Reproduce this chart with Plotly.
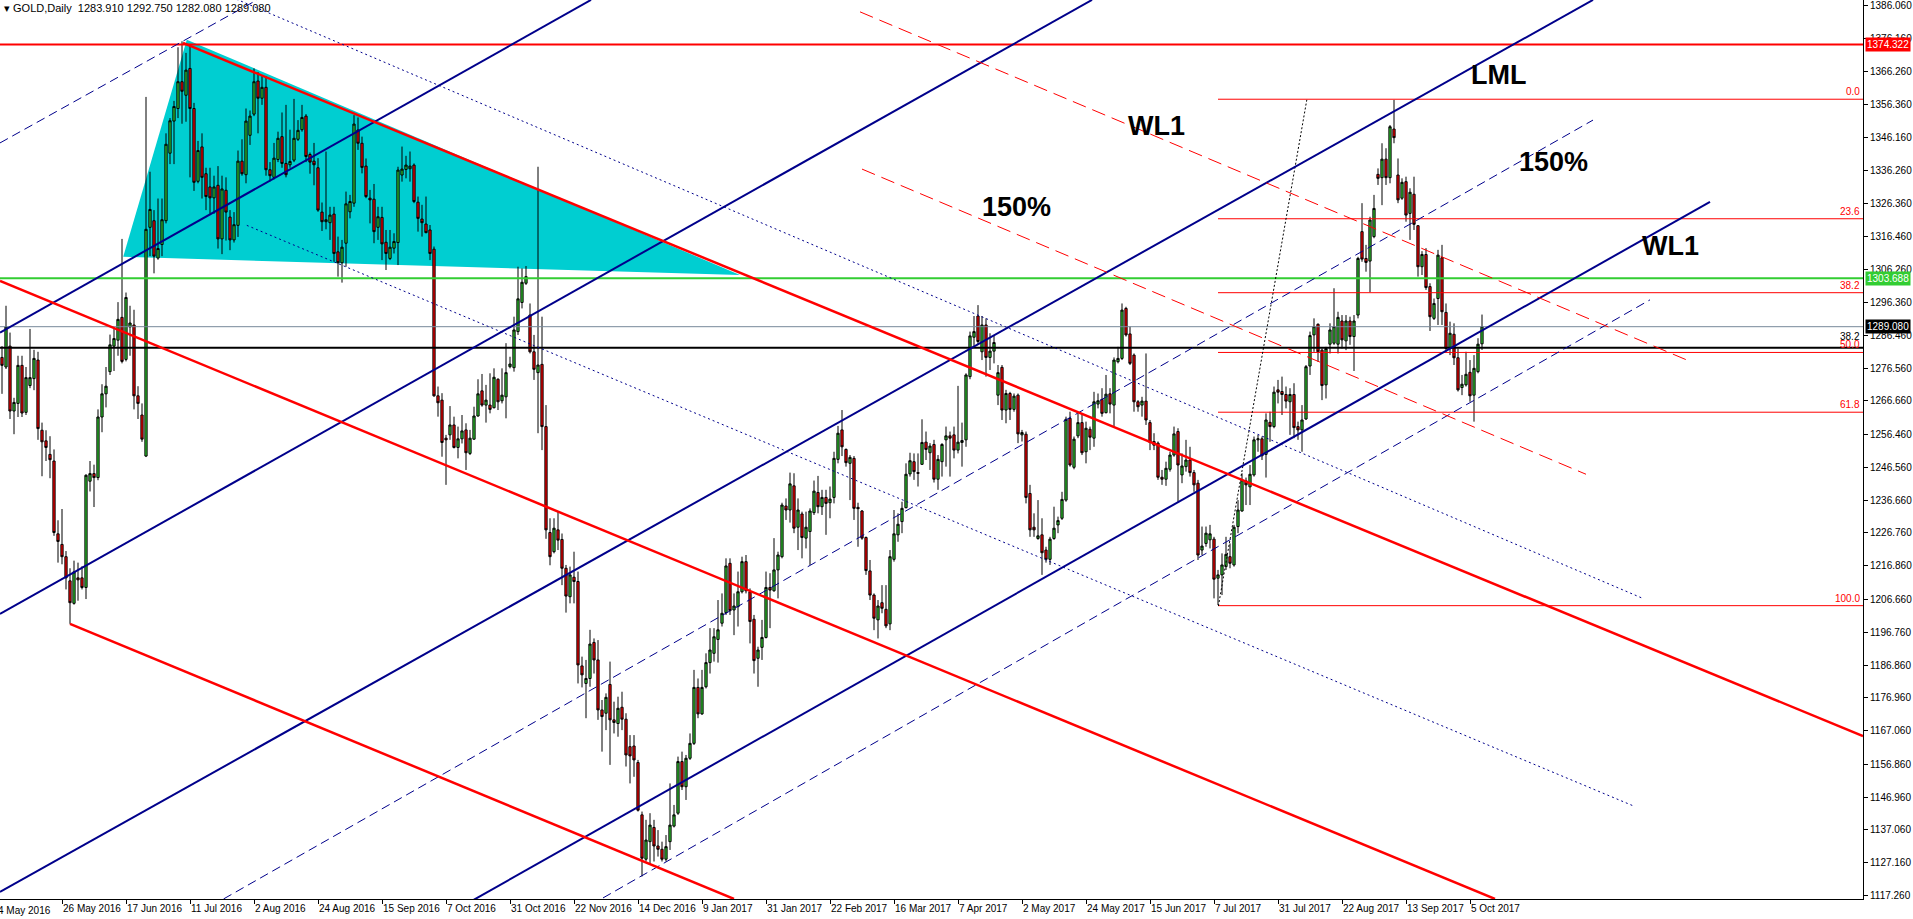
import plotly.graph_objects as go

# ---- candles (bar 1 = 5 May 2016 ... bar 371 = 10 Oct 2017) ----
open_p = [
    1279.8, 1276.9, 1283.2, 1263.6, 1265.9, 1277.4, 1263.2, 1271.3, 1273.4, 1279.0,
    1257.8, 1254.6, 1250.5, 1248.5, 1226.5, 1223.3, 1219.6, 1212.3, 1205.5, 1213.2,
    1213.2, 1210.3, 1242.4, 1244.7, 1243.5, 1261.8, 1268.8, 1275.5, 1283.2, 1285.0,
    1291.9, 1279.2, 1289.0, 1289.6, 1268.2, 1262.4, 1250.0, 1319.1, 1321.1, 1309.8,
    1313.9, 1321.1, 1341.5, 1351.2, 1355.0, 1363.1, 1359.0, 1367.1, 1355.0, 1333.0,
    1343.4, 1335.3, 1331.3, 1328.0, 1331.8, 1315.6, 1330.3, 1322.2, 1315.3, 1319.7,
    1339.1, 1335.0, 1346.9, 1353.3, 1363.3, 1358.1, 1361.4, 1336.5, 1334.2, 1339.6,
    1346.5, 1338.4, 1338.0, 1339.4, 1345.7, 1348.6, 1352.7, 1341.1, 1339.1, 1337.1,
    1323.7, 1320.8, 1320.5, 1323.1, 1311.7, 1308.4, 1314.3, 1323.8, 1326.4, 1348.5,
    1344.5, 1337.6, 1327.9, 1327.6, 1319.1, 1322.1, 1314.6, 1309.7, 1312.8, 1314.5,
    1334.9, 1336.6, 1336.8, 1337.9, 1326.7, 1321.6, 1320.1, 1318.3, 1312.5, 1268.2,
    1266.9, 1255.4, 1256.4, 1259.4, 1252.6, 1255.2, 1257.9, 1250.8, 1255.1, 1262.1,
    1269.7, 1265.4, 1265.4, 1264.6, 1273.2, 1266.7, 1267.9, 1277.0, 1276.7, 1287.6,
    1296.4, 1302.2, 1292.6, 1281.5, 1275.2, 1277.7, 1258.9, 1226.9, 1221.1, 1227.7,
    1224.8, 1216.1, 1207.5, 1213.4, 1212.1, 1186.6, 1181.3, 1182.8, 1193.7, 1188.4,
    1173.3, 1172.3, 1181.0, 1170.3, 1169.2, 1174.1, 1170.5, 1162.2, 1162.4, 1157.4,
    1141.6, 1128.2, 1133.5, 1137.8, 1132.2, 1131.2, 1128.2, 1133.5, 1138.2, 1142.1,
    1157.7, 1150.1, 1158.7, 1163.2, 1180.1, 1172.1, 1180.3, 1187.6, 1190.4, 1194.6,
    1199.5, 1202.7, 1217.6, 1203.5, 1204.5, 1209.0, 1218.1, 1209.0, 1200.7, 1188.9,
    1192.2, 1195.2, 1210.3, 1209.3, 1215.6, 1219.6, 1234.9, 1233.7, 1241.0, 1228.5,
    1232.5, 1225.2, 1227.2, 1232.9, 1239.0, 1234.7, 1237.5, 1235.9, 1237.5, 1249.0,
    1257.9, 1252.0, 1247.8, 1249.3, 1234.5, 1233.4, 1225.4, 1215.3, 1208.0, 1200.5,
    1205.7, 1203.7, 1199.3, 1218.8, 1226.2, 1230.2, 1234.4, 1244.6, 1248.3, 1245.0,
    1247.5, 1254.2, 1251.0, 1253.5, 1243.0, 1248.3, 1254.9, 1256.1, 1256.4, 1251.8,
    1254.1, 1254.9, 1274.0, 1285.9, 1292.3, 1281.5, 1289.6, 1279.8, 1281.7, 1268.4,
    1276.8, 1263.9, 1268.9, 1264.1, 1268.4, 1256.4, 1256.6, 1238.7, 1228.5, 1225.1,
    1226.2, 1221.6, 1218.8, 1225.1, 1229.2, 1231.2, 1236.7, 1261.4, 1246.6, 1256.1,
    1260.1, 1251.3, 1258.1, 1255.4, 1265.7, 1267.1, 1263.1, 1268.8, 1265.4, 1278.5,
    1279.5, 1294.6, 1286.9, 1280.5, 1266.4, 1265.4, 1266.6, 1260.1, 1254.4, 1253.9,
    1243.6, 1243.0, 1246.0, 1250.3, 1257.4, 1244.3, 1246.8, 1248.8, 1245.0, 1241.8,
    1221.6, 1223.6, 1224.7, 1224.9, 1213.1, 1214.1, 1216.6, 1219.6, 1217.1, 1228.7,
    1233.4, 1242.5, 1240.7, 1244.3, 1254.9, 1255.2, 1250.5, 1260.2, 1258.9, 1270.0,
    1269.5, 1268.6, 1266.4, 1268.6, 1258.9, 1257.9, 1261.2, 1277.2, 1286.6, 1289.8,
    1282.0, 1271.5, 1283.8, 1284.1, 1283.8, 1290.8, 1284.8, 1290.8, 1286.1, 1292.6,
    1317.8, 1309.7, 1308.9, 1316.3, 1335.1, 1334.1, 1339.7, 1334.1, 1348.8, 1334.9,
    1327.9, 1332.9, 1323.3, 1329.1, 1319.6, 1307.2, 1310.9, 1301.2, 1291.6, 1297.6,
    1309.9, 1293.4, 1282.5, 1286.8, 1279.7, 1270.7, 1271.5, 1275.3, 1268.4, 1275.5,
    1283.91]

high_p = [
    1283.2, 1295.4, 1287.3, 1267.6, 1280.3, 1280.3, 1276.9, 1288.4, 1282.1, 1281.5,
    1260.1, 1257.8, 1256.0, 1252.0, 1230.6, 1234.0, 1221.3, 1216.1, 1218.4, 1217.8,
    1216.7, 1244.5, 1248.5, 1247.4, 1264.1, 1271.7, 1276.9, 1286.7, 1288.4, 1296.5,
    1315.6, 1299.4, 1295.4, 1294.2, 1271.1, 1265.9, 1358.5, 1335.9, 1324.3, 1327.8,
    1327.8, 1347.5, 1352.1, 1357.3, 1373.5, 1375.3, 1371.8, 1374.1, 1356.7, 1345.2,
    1347.5, 1337.1, 1337.1, 1334.7, 1337.6, 1334.7, 1334.2, 1324.3, 1323.7, 1342.3,
    1345.7, 1355.0, 1354.4, 1367.1, 1366.0, 1364.8, 1364.8, 1338.8, 1344.6, 1348.0,
    1353.8, 1356.1, 1348.6, 1357.9, 1351.5, 1356.1, 1353.3, 1341.7, 1344.6, 1340.0,
    1326.6, 1342.0, 1325.3, 1325.3, 1316.3, 1315.3, 1329.9, 1328.9, 1353.0, 1352.3,
    1346.5, 1339.9, 1330.4, 1332.2, 1325.3, 1325.3, 1318.3, 1318.3, 1317.3, 1337.4,
    1343.5, 1340.7, 1342.0, 1338.4, 1328.4, 1325.9, 1328.4, 1319.8, 1313.3, 1271.0,
    1269.0, 1256.4, 1265.1, 1261.9, 1258.9, 1262.4, 1259.9, 1257.9, 1264.9, 1273.2,
    1274.8, 1271.5, 1275.0, 1276.5, 1273.5, 1276.5, 1284.1, 1280.0, 1292.1, 1307.2,
    1306.7, 1307.4, 1296.1, 1286.6, 1337.4, 1292.1, 1265.4, 1231.2, 1231.2, 1233.2,
    1226.6, 1217.1, 1216.6, 1221.1, 1215.1, 1189.4, 1188.4, 1197.5, 1194.9, 1194.4,
    1176.3, 1178.3, 1187.9, 1175.8, 1177.3, 1178.8, 1172.3, 1165.7, 1165.7, 1158.2,
    1142.6, 1140.1, 1142.1, 1140.1, 1137.0, 1133.5, 1135.5, 1151.1, 1144.6, 1159.2,
    1160.7, 1159.7, 1166.2, 1185.4, 1182.8, 1185.4, 1190.4, 1198.0, 1198.0, 1206.5,
    1208.5, 1219.1, 1219.1, 1208.5, 1215.1, 1219.6, 1220.1, 1210.0, 1202.0, 1192.4,
    1200.5, 1215.1, 1214.6, 1225.2, 1221.1, 1235.9, 1237.2, 1245.0, 1244.8, 1237.2,
    1233.2, 1233.2, 1234.2, 1242.6, 1244.0, 1239.8, 1239.8, 1240.8, 1251.3, 1259.1,
    1263.9, 1252.3, 1250.3, 1250.0, 1235.9, 1233.7, 1225.7, 1218.6, 1208.5, 1206.5,
    1211.0, 1211.0, 1221.6, 1233.7, 1232.7, 1236.2, 1247.8, 1251.0, 1250.8, 1250.8,
    1261.1, 1257.4, 1253.9, 1254.9, 1250.3, 1253.9, 1258.9, 1257.4, 1258.9, 1271.2,
    1260.1, 1275.0, 1287.6, 1292.3, 1295.6, 1292.3, 1291.6, 1287.1, 1286.6, 1277.5,
    1277.5, 1270.0, 1269.4, 1268.9, 1268.9, 1257.9, 1257.4, 1241.3, 1232.7, 1236.7,
    1231.2, 1222.6, 1225.6, 1234.7, 1231.7, 1239.2, 1261.9, 1263.4, 1255.9, 1262.9,
    1262.9, 1260.4, 1258.9, 1269.4, 1268.9, 1270.5, 1274.5, 1270.5, 1279.8, 1283.0,
    1296.1, 1295.1, 1289.1, 1281.0, 1266.9, 1267.9, 1281.0, 1260.9, 1256.9, 1254.4,
    1245.8, 1248.3, 1251.3, 1258.9, 1258.4, 1250.8, 1254.9, 1252.8, 1245.8, 1242.8,
    1228.7, 1228.7, 1229.2, 1225.6, 1215.6, 1220.6, 1225.6, 1223.6, 1229.2, 1236.7,
    1244.8, 1243.5, 1247.3, 1255.9, 1256.4, 1255.9, 1262.9, 1263.4, 1271.0, 1273.0,
    1274.0, 1271.0, 1270.5, 1272.0, 1260.4, 1265.4, 1277.5, 1287.6, 1291.6, 1290.1,
    1282.5, 1283.0, 1290.1, 1300.7, 1293.6, 1292.6, 1292.6, 1292.1, 1292.6, 1310.2,
    1326.4, 1313.8, 1322.3, 1328.9, 1336.9, 1344.5, 1343.0, 1350.0, 1357.6, 1339.9,
    1333.9, 1334.4, 1330.9, 1334.4, 1319.8, 1311.9, 1312.8, 1302.2, 1297.6, 1312.3,
    1313.8, 1296.1, 1290.6, 1290.1, 1282.5, 1274.5, 1281.5, 1279.0, 1280.5, 1285.6,
    1292.75]

low_p = [
    1268.8, 1276.3, 1261.2, 1256.6, 1261.8, 1261.8, 1262.4, 1270.5, 1269.9, 1254.9,
    1243.9, 1248.5, 1243.3, 1225.9, 1217.8, 1217.3, 1209.7, 1199.3, 1205.1, 1206.3,
    1209.7, 1206.8, 1239.3, 1234.6, 1242.7, 1257.2, 1264.7, 1274.5, 1275.7, 1280.3,
    1278.0, 1278.6, 1280.3, 1264.1, 1261.2, 1254.3, 1249.7, 1310.4, 1305.2, 1309.3,
    1310.4, 1320.3, 1338.2, 1338.2, 1352.1, 1350.4, 1351.0, 1334.2, 1330.1, 1332.4,
    1327.8, 1324.3, 1323.2, 1323.2, 1312.7, 1311.0, 1315.1, 1312.2, 1314.5, 1316.2,
    1334.7, 1332.4, 1344.0, 1352.7, 1347.5, 1356.1, 1334.7, 1333.0, 1333.6, 1338.8,
    1337.1, 1334.2, 1337.1, 1338.8, 1345.2, 1348.0, 1338.8, 1335.3, 1331.8, 1323.8,
    1318.0, 1318.5, 1315.3, 1308.7, 1304.2, 1302.4, 1307.2, 1321.8, 1325.3, 1342.5,
    1335.4, 1327.9, 1320.3, 1314.3, 1315.3, 1309.2, 1306.2, 1309.2, 1311.2, 1307.7,
    1332.9, 1333.9, 1332.9, 1326.4, 1317.8, 1316.3, 1317.3, 1309.2, 1267.9, 1261.9,
    1249.8, 1241.3, 1254.9, 1252.3, 1249.3, 1253.8, 1245.8, 1250.3, 1254.9, 1261.9,
    1264.9, 1260.1, 1262.9, 1264.4, 1263.9, 1265.9, 1261.4, 1276.5, 1275.5, 1286.6,
    1294.6, 1301.7, 1281.0, 1273.0, 1256.9, 1251.8, 1225.0, 1217.0, 1220.6, 1221.6,
    1211.0, 1202.7, 1205.5, 1205.5, 1181.3, 1180.1, 1170.8, 1180.3, 1184.3, 1170.3,
    1160.7, 1167.2, 1156.7, 1166.2, 1165.2, 1167.2, 1156.2, 1151.1, 1153.1, 1142.6,
    1123.0, 1127.5, 1126.5, 1127.5, 1129.0, 1127.5, 1127.5, 1131.0, 1137.8, 1141.6,
    1149.1, 1146.1, 1158.2, 1162.7, 1170.8, 1171.8, 1179.8, 1184.3, 1187.9, 1187.6,
    1198.5, 1202.0, 1202.0, 1195.9, 1198.5, 1208.5, 1208.5, 1193.4, 1184.3, 1180.3,
    1188.4, 1194.9, 1198.0, 1209.0, 1207.0, 1219.1, 1230.7, 1229.9, 1226.7, 1221.6,
    1219.1, 1222.1, 1217.1, 1232.2, 1232.7, 1232.2, 1226.2, 1231.2, 1235.7, 1247.8,
    1250.0, 1246.8, 1236.7, 1230.7, 1222.6, 1224.7, 1214.1, 1206.5, 1197.4, 1194.9,
    1202.5, 1198.0, 1197.4, 1218.1, 1224.1, 1226.7, 1234.2, 1243.8, 1242.8, 1240.8,
    1247.3, 1248.8, 1245.8, 1242.0, 1239.8, 1243.8, 1246.8, 1243.8, 1249.3, 1250.8,
    1246.8, 1252.8, 1273.2, 1283.1, 1283.6, 1279.0, 1274.0, 1276.0, 1278.0, 1265.4,
    1260.9, 1259.9, 1260.9, 1263.4, 1253.9, 1254.4, 1235.7, 1225.6, 1225.6, 1224.7,
    1214.1, 1217.8, 1217.1, 1224.7, 1226.7, 1230.7, 1236.2, 1246.8, 1246.0, 1255.4,
    1250.3, 1247.8, 1251.8, 1252.8, 1264.4, 1261.9, 1262.9, 1262.9, 1258.9, 1278.0,
    1279.0, 1286.1, 1277.5, 1263.4, 1263.4, 1261.9, 1259.4, 1251.8, 1251.8, 1242.8,
    1241.3, 1241.0, 1245.3, 1249.8, 1236.2, 1241.8, 1245.3, 1243.8, 1239.2, 1218.6,
    1220.1, 1222.6, 1222.1, 1207.0, 1205.0, 1208.0, 1215.6, 1216.1, 1216.6, 1226.7,
    1233.2, 1235.2, 1235.2, 1243.8, 1251.3, 1248.8, 1243.5, 1254.3, 1258.4, 1265.9,
    1262.4, 1264.4, 1256.4, 1255.4, 1254.9, 1251.3, 1260.9, 1274.5, 1281.5, 1278.5,
    1266.9, 1267.4, 1281.0, 1283.6, 1281.0, 1282.5, 1282.0, 1283.6, 1275.7, 1291.6,
    1308.7, 1305.7, 1299.5, 1315.8, 1331.9, 1325.8, 1331.9, 1332.4, 1344.5, 1326.4,
    1327.4, 1320.8, 1315.3, 1318.3, 1304.2, 1304.7, 1300.2, 1287.8, 1291.1, 1289.6,
    1289.6, 1281.5, 1280.5, 1277.5, 1269.5, 1268.4, 1271.0, 1266.4, 1260.4, 1275.0,
    1282.08]

close_p = [
    1277.4, 1289.0, 1263.6, 1266.2, 1277.4, 1263.0, 1273.7, 1273.7, 1279.5, 1258.3,
    1254.3, 1252.6, 1248.9, 1226.9, 1224.2, 1219.6, 1213.2, 1205.7, 1215.0, 1212.6,
    1210.3, 1244.2, 1244.7, 1243.5, 1261.8, 1268.8, 1271.1, 1283.6, 1285.5, 1291.3,
    1278.6, 1297.9, 1290.2, 1268.2, 1265.9, 1255.1, 1318.5, 1324.5, 1310.4, 1312.7,
    1321.4, 1344.2, 1351.3, 1355.6, 1363.1, 1360.2, 1366.6, 1355.0, 1332.7, 1342.3,
    1334.2, 1328.4, 1328.0, 1331.3, 1315.6, 1330.7, 1323.7, 1315.3, 1319.9, 1339.1,
    1335.3, 1351.2, 1352.7, 1363.1, 1358.1, 1361.4, 1336.5, 1334.7, 1340.0, 1346.0,
    1338.4, 1335.0, 1339.0, 1346.0, 1348.4, 1352.3, 1340.5, 1338.8, 1338.0, 1324.3,
    1320.8, 1321.4, 1322.8, 1311.2, 1308.4, 1313.1, 1326.2, 1326.9, 1350.3, 1344.5,
    1337.2, 1328.4, 1327.4, 1317.8, 1322.3, 1314.1, 1311.2, 1313.1, 1314.8, 1336.4,
    1336.7, 1337.9, 1337.6, 1326.9, 1321.8, 1320.5, 1317.5, 1311.2, 1268.2, 1266.1,
    1254.1, 1254.9, 1259.4, 1252.6, 1255.2, 1257.6, 1251.0, 1255.4, 1262.1, 1268.8,
    1265.4, 1266.9, 1264.1, 1273.8, 1266.4, 1268.4, 1275.2, 1277.8, 1288.1, 1297.5,
    1302.5, 1304.2, 1281.5, 1276.2, 1277.5, 1258.9, 1227.7, 1219.6, 1228.2, 1224.6,
    1216.1, 1207.7, 1214.1, 1212.1, 1186.9, 1183.9, 1182.8, 1193.2, 1188.4, 1173.3,
    1171.3, 1177.1, 1170.3, 1169.5, 1173.8, 1170.5, 1159.7, 1159.4, 1158.2, 1143.0,
    1128.5, 1134.0, 1138.5, 1132.2, 1131.2, 1128.2, 1132.0, 1138.5, 1141.6, 1157.7,
    1150.1, 1158.7, 1163.2, 1180.1, 1172.1, 1180.1, 1187.6, 1191.4, 1195.4, 1197.5,
    1202.5, 1216.8, 1203.3, 1204.7, 1209.0, 1218.1, 1209.3, 1200.0, 1188.2, 1191.4,
    1195.2, 1210.3, 1209.5, 1215.6, 1220.1, 1235.2, 1233.7, 1241.6, 1228.2, 1233.7,
    1225.4, 1228.5, 1233.4, 1239.4, 1234.7, 1237.5, 1235.7, 1237.0, 1249.3, 1256.9,
    1252.8, 1248.0, 1249.6, 1234.2, 1234.1, 1225.2, 1215.4, 1208.0, 1201.0, 1204.7,
    1204.0, 1198.7, 1219.6, 1226.5, 1229.4, 1234.2, 1244.5, 1248.6, 1245.3, 1244.8,
    1254.1, 1252.0, 1253.0, 1243.0, 1249.0, 1253.5, 1256.1, 1255.4, 1251.8, 1254.2,
    1254.7, 1274.5, 1286.3, 1287.6, 1284.6, 1289.6, 1279.8, 1281.7, 1284.3, 1275.2,
    1263.9, 1268.9, 1264.1, 1268.1, 1256.7, 1257.1, 1237.5, 1227.7, 1227.7, 1225.9,
    1220.8, 1218.8, 1224.9, 1228.2, 1230.5, 1236.9, 1261.1, 1247.3, 1255.1, 1260.1,
    1251.0, 1258.4, 1255.7, 1266.4, 1266.7, 1262.9, 1268.7, 1265.7, 1279.0, 1279.5,
    1294.1, 1286.6, 1278.0, 1266.4, 1264.9, 1266.6, 1260.9, 1254.1, 1253.3, 1243.6,
    1243.0, 1246.3, 1250.3, 1256.7, 1247.3, 1247.0, 1248.8, 1245.0, 1241.3, 1220.1,
    1222.8, 1226.7, 1226.5, 1212.8, 1214.1, 1217.1, 1220.3, 1217.6, 1228.5, 1233.7,
    1242.8, 1241.3, 1244.5, 1254.9, 1255.2, 1250.1, 1260.9, 1258.9, 1269.3, 1269.3,
    1268.6, 1266.6, 1268.6, 1258.6, 1257.9, 1260.9, 1277.0, 1286.4, 1289.1, 1281.5,
    1271.3, 1282.5, 1288.1, 1289.1, 1291.9, 1285.1, 1290.8, 1286.1, 1290.8, 1309.7,
    1309.5, 1308.5, 1321.3, 1324.8, 1333.9, 1339.7, 1334.1, 1349.5, 1346.2, 1327.4,
    1332.7, 1322.8, 1329.7, 1320.0, 1307.2, 1310.9, 1300.9, 1292.1, 1296.1, 1310.7,
    1293.6, 1282.5, 1287.1, 1279.7, 1270.0, 1271.7, 1274.7, 1268.2, 1276.5, 1283.8,
    1289.08]

bars = list(range(1, len(close_p) + 1))

# ---- axis labels ----
date_labels = ["4 May 2016", "26 May 2016", "17 Jun 2016", "11 Jul 2016", "2 Aug 2016",
               "24 Aug 2016", "15 Sep 2016", "7 Oct 2016", "31 Oct 2016", "22 Nov 2016",
               "14 Dec 2016", "9 Jan 2017", "31 Jan 2017", "22 Feb 2017", "16 Mar 2017",
               "7 Apr 2017", "2 May 2017", "24 May 2017", "15 Jun 2017", "7 Jul 2017",
               "31 Jul 2017", "22 Aug 2017", "13 Sep 2017", "5 Oct 2017"]
date_bars = [16 * k for k in range(len(date_labels))]

price_labels = ["1386.060", "1376.160", "1366.260", "1356.360", "1346.160", "1336.260",
                "1326.360", "1316.460", "1306.260", "1296.360", "1286.460", "1276.560",
                "1266.660", "1256.460", "1246.560", "1236.660", "1226.760", "1216.860",
                "1206.660", "1196.760", "1186.860", "1176.960", "1167.060", "1156.860",
                "1146.960", "1137.060", "1127.160", "1117.260"]

# ---- drawn objects: (bar0, price0, bar1, price1) ----
navy_solid = [(0.5, 1287.3, 148.25, 1387.8), (0.5, 1202.3, 273.5, 1387.8),
              (0.5, 1118.3, 398.75, 1387.8), (118.0, 1115.3, 428.0, 1326.8)]
navy_dash = [(0.5, 1344.6, 64.75, 1387.8), (56.4, 1116.2, 398.75, 1351.5),
             (151.25, 1116.5, 413.0, 1297.2)]
navy_dot = [(55.0, 1390.4, 411.0, 1207.1), (62.2, 1319.7, 409.25, 1144.1)]
red_solid = [(46.25, 1374.8, 466.25, 1165.4), (0.5, 1302.9, 374.25, 1116.2),
             (18.0, 1199.3, 184.0, 1116.2)]
red_dash = [(215.5, 1384.2, 422.25, 1279.0), (216.0, 1336.7, 397.0, 1244.5)]
triangle = [(31.3, 1310.2), (47.2, 1375.8), (185.5, 1304.7)]

resistance = 1374.322
support = 1303.688
bid = 1289.08
black_level = 1282.7

fib_high, fib_low = 1357.8, 1204.8
fib_levels = [0.0, 23.6, 38.2, 50.0, 61.8, 100.0]
fib_start = 305
fib_trend = (305.1, 1204.7, 327.2, 1357.6)

notes = ["LML", "150%", "WL1", "WL1", "150%"]
notes_x = [375.1, 388.75, 418.0, 289.5, 254.5]
notes_y = [1365.1, 1338.8, 1313.6, 1349.7, 1325.3]

FONT = "Liberation Sans"
NAVY = "#00008B"
RED = "#FF0000"

fig = go.Figure()

fig.add_trace(go.Candlestick(
    x=bars, open=open_p, high=high_p, low=low_p, close=close_p,
    increasing=dict(line=dict(color="black", width=1), fillcolor="#32CD32"),
    decreasing=dict(line=dict(color="black", width=1), fillcolor="#FF0000"),
    whiskerwidth=0, showlegend=False, hoverinfo="skip",
))

# cyan triangle in the background
path = "M {} {} L {} {} L {} {} Z".format(*[v for pt in triangle for v in pt])
fig.add_shape(type="path", path=path, xref="x", yref="y",
              fillcolor="#00CED1", line=dict(width=0), layer="below")


def seg(p, color, width, dash="solid"):
    fig.add_shape(type="line", xref="x", yref="y",
                  x0=p[0], y0=p[1], x1=p[2], y1=p[3],
                  line=dict(color=color, width=width, dash=dash), layer="above")


def hline(y, color, width, x0=0, xref="paper"):
    fig.add_shape(type="line", xref=xref, yref="y", x0=x0, x1=1 if xref == "paper" else 466.25,
                  y0=y, y1=y, line=dict(color=color, width=width), layer="above")


hline(resistance, RED, 2)
hline(support, "#32CD32", 2)
hline(bid, "#778899", 1)
hline(black_level, "black", 2)

for lv in fib_levels:
    price = fib_high - lv / 100 * (fib_high - fib_low)
    hline(price, RED, 1, x0=fib_start, xref="x")
    fig.add_annotation(x=1, xref="paper", xanchor="right", y=price, yref="y",
                       yanchor="bottom", text="{:.1f}".format(lv), showarrow=False,
                       font=dict(family=FONT, size=10, color=RED), xshift=-1)
fig.add_annotation(x=1, xref="paper", xanchor="right", y=black_level, yref="y",
                   yanchor="bottom", text="38.2", showarrow=False, yshift=4,
                   font=dict(family=FONT, size=10, color="black"), xshift=-1)

seg(fib_trend, "black", 1, "2px,2px")
for p in navy_solid:
    seg(p, NAVY, 2)
for p in navy_dash:
    seg(p, NAVY, 1, "9px,5px")
for p in navy_dot:
    seg(p, NAVY, 1, "2px,3px")
for p in red_solid:
    seg(p, RED, 2.5)
for p in red_dash:
    seg(p, RED, 1, "14px,7px")

for t, x, y in zip(notes, notes_x, notes_y):
    fig.add_annotation(x=x, y=y, xref="x", yref="y", text="<b>" + t + "</b>",
                       showarrow=False, font=dict(family=FONT, size=27, color="black"))

# price boxes on the right scale
for val, col in [(resistance, RED), (support, "#32CD32"), (bid, "black")]:
    fig.add_annotation(x=1, xref="paper", xanchor="left", y=val, yref="y",
                       text="{:.3f}".format(val), showarrow=False, bgcolor=col,
                       font=dict(family=FONT, size=10, color="white"),
                       borderpad=1, xshift=2)

# header and the clipped first date (its tick sits just left of the chart)
fig.add_annotation(x=0, y=1, xref="paper", yref="paper", xanchor="left", yanchor="top",
                   text="\u25be GOLD,Daily  1283.910 1292.750 1282.080 1289.080",
                   showarrow=False, xshift=2, yshift=0,
                   font=dict(family=FONT, size=11, color="black"))
fig.add_annotation(x=0, y=0, xref="paper", yref="paper", xanchor="left",
                   yanchor="top", text=date_labels[0], showarrow=False,
                   xshift=-4, yshift=-4,
                   font=dict(family=FONT, size=10, color="black"))

fig.update_layout(
    width=1913, height=919,
    margin=dict(l=0, r=50, t=0, b=20),
    paper_bgcolor="white", plot_bgcolor="white",
    showlegend=False,
    boxgap=0.2,
    font=dict(family=FONT, size=10, color="black"),
    xaxis=dict(range=[0.5, 466.25], tickvals=date_bars[1:], ticktext=date_labels[1:],
               ticks="outside", ticklen=4, tickcolor="black", tickangle=0,
               ticklabelposition="outside right",
               showline=True, linecolor="black", linewidth=1,
               showgrid=False, zeroline=False, rangeslider=dict(visible=False),
               tickfont=dict(family=FONT, size=10, color="black")),
    yaxis=dict(range=[1116.18, 1387.78], side="right",
               tickvals=[float(v) for v in price_labels], ticktext=price_labels,
               ticks="outside", ticklen=4, tickcolor="black",
               showline=True, linecolor="black", linewidth=1,
               showgrid=False, zeroline=False,
               tickfont=dict(family=FONT, size=10, color="black")),
)

fig.write_html("out.html", config={"displayModeBar": False},
               post_script="document.body.style.margin='0';document.body.style.overflow='hidden';")
